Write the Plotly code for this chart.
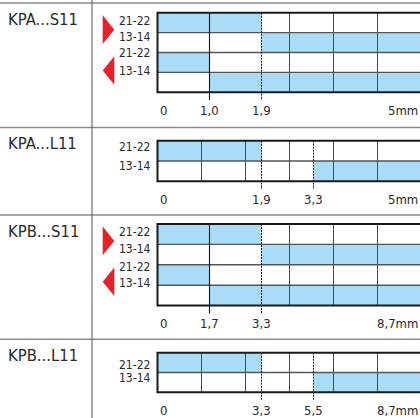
import numpy as np
import plotly.graph_objects as go

# ---- data ----
panels = ["KPA...S11", "KPA...L11", "KPB...S11", "KPB...L11"]
contacts = [["21-22", "13-14", "21-22", "13-14"], ["21-22", "13-14"],
            ["21-22", "13-14", "21-22", "13-14"], ["21-22", "13-14"]]
strokes = [[0, 1.0, 1.9, 5.0], [0, 1.9, 3.3, 5.0], [0, 1.7, 3.3, 8.7], [0, 3.3, 5.5, 8.7]]
stroke_labels = [["0", "1,0", "1,9", "5mm"], ["0", "1,9", "3,3", "5mm"],
                 ["0", "1,7", "3,3", "8,7mm"], ["0", "3,3", "5,5", "8,7mm"]]
# contact closed (blue) from / to, in mm, one entry per row (top to bottom)
closed_from = [[0, 1.9, 0, 1.0], [0, 3.3], [0, 3.3, 0, 1.7], [0, 5.5]]
closed_to = [[1.9, 5.0, 1.0, 5.0], [1.9, 5.0], [3.3, 8.7, 1.7, 8.7], [3.3, 8.7]]

# ---- layout geometry (pixels) ----
W, H = 420, 418
FONT = "DejaVu Sans Condensed, Liberation Sans Narrow, sans-serif"
TXT = "#2a2a2a"
BLUE = "#a9ddf7"
RED = "#e8202a"
X0_PX, SLOT_PX, CELL_PX = 157.5, 52.0, 44.0
END = (422 - X0_PX) / SLOT_PX
box_top = [12.7, 140.7, 224.0, 352.7]
row_h = [19.9, 20.25, 20.4, 19.8]
title_y = [19.7, 143.5, 231.3, 355.7]
label_off = [[8, 24.6, 40.6, 58], [6.3, 25.5], [7.7, 25.3, 42.7, 59.3], [12.1, 25.6]]
tick_off = 18
separators = [3, 127.5, 215, 339.3]


def px(x):
    return x / W


def py(y):
    return 1 - y / H


fig = go.Figure()
shapes, annotations = [], []

for p, name in enumerate(panels):
    ax = "" if p == 0 else str(p + 1)
    n = len(contacts[p])
    rh = row_h[p]
    snap = name.endswith("S11")
    slots = [0, 1, 2, END] if snap else [0, 2, 3, END]

    def to_slot(mm):
        return float(np.interp(mm, strokes[p], slots))

    top_px = box_top[p] - 3
    bot_px = box_top[p] + n * rh + 11
    fig.update_layout(**{
        "xaxis" + ax: dict(domain=[px(150), 1], range=[(150 - X0_PX) / SLOT_PX, (420 - X0_PX) / SLOT_PX],
                           visible=False, anchor="y" + ax, fixedrange=True),
        "yaxis" + ax: dict(domain=[py(bot_px), py(top_px)],
                           range=[(bot_px - box_top[p]) / rh, (top_px - box_top[p]) / rh],
                           visible=False, anchor="x" + ax, fixedrange=True),
    })

    base = [to_slot(a) for a in closed_from[p]]
    length = [to_slot(b) - to_slot(a) for a, b in zip(closed_from[p], closed_to[p])]
    fig.add_trace(go.Bar(
        y=[i + 0.5 for i in range(n)], x=length, base=base, orientation="h", width=1,
        marker=dict(color=BLUE, line=dict(width=0)), xaxis="x" + ax, yaxis="y" + ax,
        showlegend=False, hoverinfo="skip"))

    xr, yr = "x" + ax, "y" + ax
    # background grid
    ks = range(1, 6) if not snap else range(3, 6)
    for k in ks:
        gx = k * CELL_PX / SLOT_PX
        shapes.append(dict(type="line", xref=xr, yref=yr, x0=gx, x1=gx, y0=0, y1=n,
                           line=dict(color="#4a4a4a", width=1)))
    for i in range(1, n):
        shapes.append(dict(type="line", xref=xr, yref=yr, x0=0, x1=END, y0=i, y1=i,
                           line=dict(color="#555555", width=1.4)))
    # stroke markers
    for j in (1, 2):
        sx = to_slot(strokes[p][j])
        solid = snap and j == 1
        shapes.append(dict(type="line", xref=xr, yref=yr, x0=sx, x1=sx, y0=0, y1=n + 8 / rh,
                           line=dict(color="#111111", width=1.1 if solid else 1,
                                     dash="solid" if solid else "2px,1px")))
    shapes.append(dict(type="rect", xref=xr, yref=yr, x0=0, x1=END, y0=0, y1=n,
                       line=dict(color="#1a1a1a", width=2)))

    # texts
    annotations.append(dict(text=name, xref="paper", yref="paper", x=px(6), y=py(title_y[p]),
                            xanchor="left", yanchor="middle", showarrow=False,
                            font=dict(size=16.5, color=TXT, family=FONT)))
    for i, c in enumerate(contacts[p]):
        annotations.append(dict(text=c, xref="paper", yref="paper", x=px(152),
                                y=py(box_top[p] + label_off[p][i]), xanchor="right", yanchor="middle",
                                showarrow=False, font=dict(size=12, color=TXT, family=FONT)))
    ty = py(box_top[p] + n * rh + tick_off)
    for j, lab in enumerate(stroke_labels[p]):
        if j == len(stroke_labels[p]) - 1:
            annotations.append(dict(text=lab, xref="paper", yref="paper", x=px(420), y=ty,
                                    xanchor="right", yanchor="middle", showarrow=False,
                                    font=dict(size=13, color=TXT, family=FONT)))
        else:
            annotations.append(dict(text=lab, xref=xr, yref="paper", x=to_slot(strokes[p][j]), y=ty,
                                    xanchor="left" if j == 0 else "center", yanchor="middle",
                                    showarrow=False, font=dict(size=13, color=TXT, family=FONT)))

    # direction arrows for snap-action types
    if snap:
        t = box_top[p]
        right = [(102.7, t + 2.5), (114.3, t + 17), (102.7, t + 31.3)]
        left = [(114.3, t + 43.5), (102.7, t + 57.8), (114.3, t + 72)]
        for tri in (right, left):
            path = "M " + " L ".join(f"{px(a)},{py(b)}" for a, b in tri) + " Z"
            shapes.append(dict(type="path", xref="paper", yref="paper", path=path,
                               fillcolor=RED, line=dict(width=0)))

for s in separators:
    shapes.append(dict(type="line", xref="paper", yref="paper", x0=0, x1=1, y0=py(s), y1=py(s),
                       line=dict(color="#8c8c8c", width=1.4)))
shapes.append(dict(type="line", xref="paper", yref="paper", x0=px(92), x1=px(92), y0=0, y1=1,
                   line=dict(color="#555555", width=1)))

fig.update_layout(width=W, height=H, margin=dict(l=0, r=0, t=0, b=0),
                  paper_bgcolor="white", plot_bgcolor="rgba(0,0,0,0)",
                  barmode="overlay", shapes=shapes, annotations=annotations)

fig.write_html("out.html", config={"displayModeBar": False},
               post_script="document.body.style.margin = '0';")
